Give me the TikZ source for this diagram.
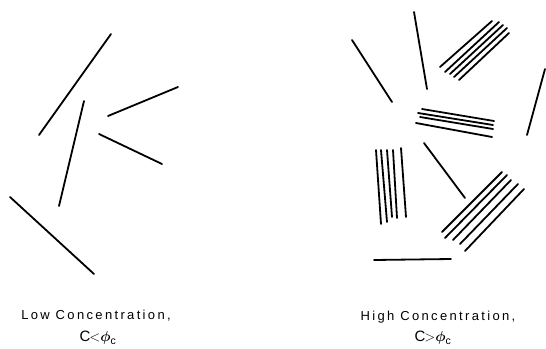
\documentclass[tikz,border=0pt]{standalone}
\usepackage{bm}
\usepackage{fontspec}
\setmainfont{Liberation Sans}
\usepackage{tikz}
\tikzset{every picture/.style={line width=1.8pt}}
\tikzset{rod/.style={line cap=round}}
\newfontfamily\lblfont[LetterSpace=18]{Liberation Sans}

\begin{document}
\begin{tikzpicture}[x=1pt,y=-1pt,
 every node/.style={font=\lblfont\fontsize{13}{15}\selectfont,inner sep=0pt}]
 \useasboundingbox (0,0) rectangle (546,348);
 % low concentration: isolated rods
 \foreach \xa/\ya/\xb/\yb in {39/135/111/34, 84/101/59/206, 108/116/178/87,
   99/134/162/164, 10/197/94/274}
  \draw[rod] (\xa,\ya) -- (\xb,\yb);
 % high concentration: single rods
 \foreach \xa/\ya/\xb/\yb in {352/40/392/102, 414/12/427/89, 545/69/527/135,
   424/143/465/198, 374/260/451/259}
  \draw[rod] (\xa,\ya) -- (\xb,\yb);
 % high concentration: bundles
 \foreach \xa/\ya/\xb/\yb in {440/67/492/21, 445/72/499/22, 450/74/503/25,
   454/77/507/28, 459/80/509/33}
  \draw[rod] (\xa,\ya) -- (\xb,\yb);
 \foreach \xa/\ya/\xb/\yb in {422/109/494/121, 418/113/493/125,
   420/117/493/129, 416/123/492/137}
  \draw[rod] (\xa,\ya) -- (\xb,\yb);
 \foreach \xa/\ya/\xb/\yb in {376/150/381/224, 381/150/387/222,
   387/150/392/217, 393/150/397/218, 401/148/406/217}
  \draw[rod] (\xa,\ya) -- (\xb,\yb);
 \foreach \xa/\ya/\xb/\yb in {442/232/502/172, 445/238/507/175,
   453/240/511/180, 460/244/518/184, 465/251/524/189}
  \draw[rod] (\xa,\ya) -- (\xb,\yb);
 % labels
 \node (lowlbl) at (96,316) {Low Concentration,};
 \node[font=\lblfont\fontsize{15}{17}\selectfont] (lowcond) at (98,338)
  {C\kern-1pt$\mathord{<}\bm{\phi}_{\mathrm{c}}$};
 \node (highlbl) at (438,317) {High Concentration,};
 \node[font=\lblfont\fontsize{15}{17}\selectfont] (highcond) at (433,338)
  {C\kern-1pt$\mathord{>}\bm{\phi}_{\mathrm{c}}$};
\end{tikzpicture}
\end{document}
